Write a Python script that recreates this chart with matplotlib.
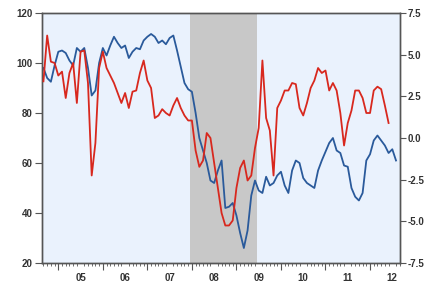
import numpy as np
import matplotlib
matplotlib.use("Agg")
import matplotlib.pyplot as plt
from matplotlib.ticker import FixedLocator, NullFormatter

# ---------------- data ----------------
start_year, start_month = 2004, 9          # first observation: Sep 2004 (monthly)

# blue series (left axis)
blue = [98, 94, 92.5, 99, 104.5, 105, 104, 101, 99, 106, 104.5, 106,
        98, 87, 89, 100, 106, 103, 107, 110.5, 108, 106, 107, 102,
        104.5, 106, 105.5, 109, 110.5, 111.6, 110.5, 108, 109, 107.5, 110, 111,
        105, 98.5, 92, 89.5, 88.5, 80, 70, 65, 60, 53, 52, 57,
        61, 42, 42.5, 44, 39, 32, 26, 33, 47, 53, 49, 48,
        54.5, 51, 52, 55, 56.5, 51, 48, 57, 61, 60, 54, 52,
        51, 50, 57, 61, 64.5, 68, 70, 65, 64, 59, 58.5, 50,
        46.5, 45, 48, 61, 63.5, 69, 71, 69, 67, 64, 65.5, 61]

# red series (right axis)
red = [3.4, 6.15, 4.58, 4.5, 3.75, 3.98, 2.4, 3.9, 4.5, 2.1, 5.18, 5.25,
       3.3, -2.25, -0.3, 4.2, 5.18, 4.2, 3.75, 3.3, 2.7, 2.1, 2.7, 1.8,
       2.78, 2.85, 3.9, 4.65, 3.45, 3.0, 1.2, 1.35, 1.73, 1.5, 1.35, 1.95,
       2.4, 1.8, 1.35, 1.05, 1.05, -0.75, -1.73, -1.35, 0.3, 0.0, -1.5, -3.0,
       -4.5, -5.25, -5.25, -4.95, -3.0, -1.8, -1.35, -2.55, -2.25, -0.6, 0.6, 4.65,
       1.2, 0.45, -2.25, 1.8, 2.25, 2.85, 2.85, 3.3, 3.23, 1.8, 1.35, 2.1,
       3.0, 3.45, 4.2, 3.9, 4.05, 2.85, 3.3, 2.85, 1.5, -0.45, 0.9, 1.65,
       2.85, 2.85, 2.4, 1.5, 1.5, 2.85, 3.08, 2.93, 1.95, 0.9]

recession = (2007 + 11.5 / 12, 2009 + 5.5 / 12)   # Dec 2007 - Jun 2009
years = list(range(2005, 2013))
year_labels = ["05", "06", "07", "08", "09", "10", "11", "12"]
left_ticks = [20, 40, 60, 80, 100, 120]
right_ticks = [-7.5, -5.0, -2.5, 0.0, 2.5, 5.0, 7.5]

# ---------------- plot ----------------
t0 = start_year + (start_month - 1) / 12
t_blue = t0 + np.arange(len(blue)) / 12
t_red = t0 + np.arange(len(red)) / 12

plt.rcParams['font.family'] = ['Liberation Sans', 'DejaVu Sans']
fig = plt.figure(figsize=(4.28, 2.86), dpi=100)
ax = fig.add_axes([42 / 428, 1 - 263 / 286, 358 / 428, 250 / 286])
ax.set_facecolor("#EAF2FD")
fig.patch.set_facecolor("white")

ax.axvspan(recession[0], recession[1], color="#C8C8C8", lw=0, zorder=0)
ax.plot(t_blue, blue, color="#2A5A9B", lw=1.3, zorder=3)
ax.set_xlim(2004.634, 2012.673)
ax.set_ylim(20, 120)

ax2 = ax.twinx()
ax2.plot(t_red, red, color="#D8281E", lw=1.3, zorder=3)
ax2.set_ylim(-7.5, 7.5)

lab_kw = dict(fontsize=7.0, fontweight="bold", color="#333333")

# x axis: labels at mid-year, monthly minor ticks, year ticks via secondary axis
ax.xaxis.set_major_locator(FixedLocator([y + 0.5 for y in years]))
ax.set_xticklabels(year_labels, **lab_kw)
ax.xaxis.set_minor_locator(FixedLocator(np.arange(2004 + 8 / 12, 2012.7, 1 / 12)))
ax.xaxis.set_minor_formatter(NullFormatter())
ax.tick_params(axis="x", which="major", length=0, pad=7)
ax.tick_params(axis="x", which="minor", length=2, width=0.6, color="#555555")

sec = ax.secondary_xaxis("bottom")
sec.set_xticks(years)
sec.set_xticklabels([])
sec.tick_params(length=5, width=0.8, color="#555555")
sec.spines["bottom"].set_visible(False)

ax.set_yticks(left_ticks)
ax.set_yticklabels([str(v) for v in left_ticks], **lab_kw)
ax.tick_params(axis="y", length=5, width=0.8, color="#555555", pad=1.5)

ax2.set_yticks(right_ticks)
ax2.set_yticklabels([f"{v:.1f}" for v in right_ticks], **lab_kw)
ax2.tick_params(axis="y", length=4, width=0.8, color="#555555", pad=1.5)

for a in (ax, ax2):
    for s in a.spines.values():
        s.set_color("#555555")
        s.set_linewidth(1.0)

fig.savefig("out.png", dpi=100)
